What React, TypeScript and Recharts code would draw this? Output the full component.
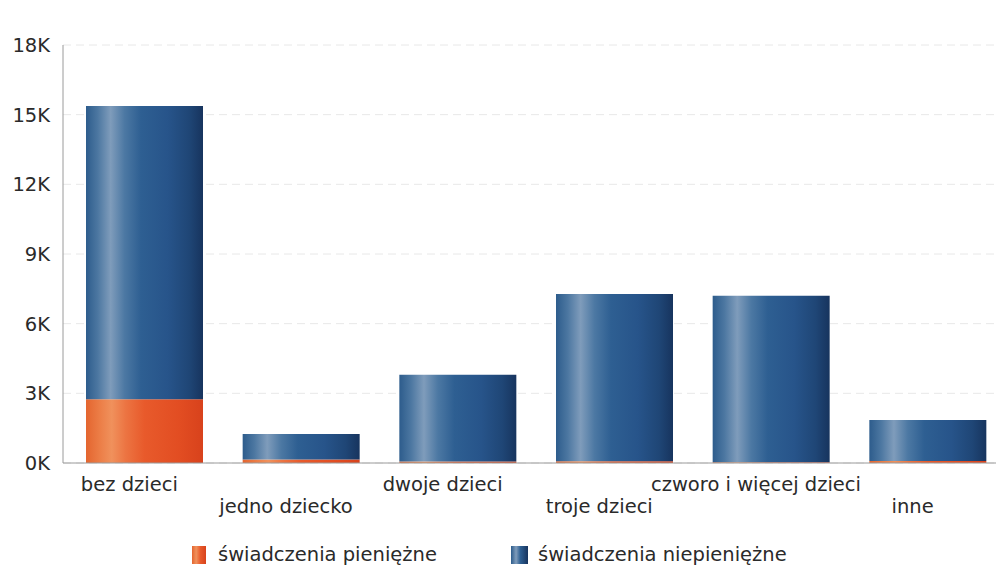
import React from 'react';
import { BarChart, Bar, XAxis, YAxis, CartesianGrid } from 'recharts';

const categories = ['bez dzieci', 'jedno dziecko', 'dwoje dzieci', 'troje dzieci', 'czworo i więcej dzieci', 'inne'];
const pieniezne = [2750, 150, 60, 70, 30, 90];
const niepieniezne = [12620, 1100, 3740, 7210, 7170, 1760];
const yTicks = [0, 3000, 6000, 9000, 12000, 15000, 18000];
const seriesNames = ['świadczenia pieniężne', 'świadczenia niepieniężne'];

const data = categories.map((c, i) => ({ name: c, p: pieniezne[i], n: niepieniezne[i] }));

const FONT = '"DejaVu Sans", Verdana, sans-serif';

const XTick = (props: any) => {
  const { x, y, payload, index } = props;
  const row = index % 2;
  return (
    <text x={x - 15} y={y + (row ? 50 : 28)} textAnchor="middle" fontFamily={FONT} fontSize={19.5} fill="#2a2a2a">
      {payload.value}
    </text>
  );
};

export default function App() {
  return (
    <div style={{ position: 'relative', width: 996, height: 568, overflow: 'hidden', background: '#fff' }}>
      <style>{'html,body{margin:0;padding:0;overflow:hidden;background:#fff}'}</style>
      <svg width={0} height={0} style={{ position: 'absolute' }}>
        <defs>
          <linearGradient id="gBlue" x1="0" y1="0" x2="1" y2="0">
            <stop offset="0%" stopColor="#2d5c8c" />
            <stop offset="10%" stopColor="#4c77a1" />
            <stop offset="21%" stopColor="#7f9cbb" />
            <stop offset="33%" stopColor="#4c78a3" />
            <stop offset="47%" stopColor="#2e5f92" />
            <stop offset="70%" stopColor="#27548a" />
            <stop offset="88%" stopColor="#1f4676" />
            <stop offset="100%" stopColor="#17345e" />
          </linearGradient>
          <linearGradient id="gOrange" x1="0" y1="0" x2="1" y2="0">
            <stop offset="0%" stopColor="#e4652f" />
            <stop offset="12%" stopColor="#ec7e47" />
            <stop offset="22%" stopColor="#f0915c" />
            <stop offset="34%" stopColor="#ec7442" />
            <stop offset="50%" stopColor="#e85a2b" />
            <stop offset="80%" stopColor="#e24d22" />
            <stop offset="100%" stopColor="#d8421c" />
          </linearGradient>
        </defs>
      </svg>
      <BarChart
        width={1011}
        height={568}
        data={data}
        margin={{ top: 45, right: 5, left: 0, bottom: 45 }}
      >
        <CartesianGrid vertical={false} stroke="#e8e8e8" strokeDasharray="8 5" />
        <XAxis
          dataKey="name"
          height={60}
          tickLine={false}
          tickSize={0}
          tickMargin={0}
          axisLine={{ stroke: '#9a9a9a' }}
          interval={0}
          padding={{ left: 3, right: 0 }}
          tick={<XTick />}
        />
        <YAxis
          width={63}
          domain={[0, 18000]}
          ticks={yTicks}
          tickLine={false}
          tickSize={6}
          tickMargin={7}
          axisLine={{ stroke: '#9a9a9a' }}
          tickFormatter={(v: number) => `${v / 1000}K`}
          tick={{ fontFamily: FONT, fontSize: 19.5, fill: '#2a2a2a' }}
        />
        <Bar dataKey="p" name={seriesNames[0]} stackId="s" fill="url(#gOrange)" barSize={117} isAnimationActive={false} />
        <Bar dataKey="n" name={seriesNames[1]} stackId="s" fill="url(#gBlue)" barSize={117} isAnimationActive={false} />
      </BarChart>
      <div style={{ position: 'absolute', left: 192, top: 545, display: 'flex', alignItems: 'center', fontFamily: FONT, fontSize: 19.5, color: '#2a2a2a', lineHeight: '20px' }}>
        <span style={{ display: 'inline-block', width: 14, height: 18, background: 'linear-gradient(90deg,#e4652f,#f0915c 30%,#e85a2b 60%,#d8421c)' }} />
        <span style={{ marginLeft: 12, whiteSpace: 'nowrap' }}>{seriesNames[0]}</span>
      </div>
      <div style={{ position: 'absolute', left: 511, top: 545, display: 'flex', alignItems: 'center', fontFamily: FONT, fontSize: 19.5, color: '#2a2a2a', lineHeight: '20px' }}>
        <span style={{ display: 'inline-block', width: 17, height: 18, background: 'linear-gradient(90deg,#2d5c8c,#7f9cbb 30%,#2e5f92 55%,#17345e)' }} />
        <span style={{ marginLeft: 10, whiteSpace: 'nowrap' }}>{seriesNames[1]}</span>
      </div>
    </div>
  );
}
